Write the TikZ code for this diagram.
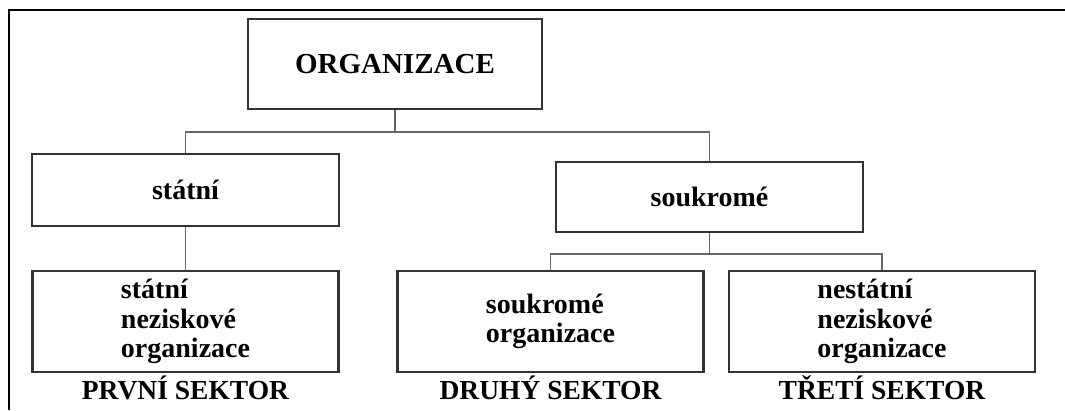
\documentclass[tikz,border=0pt]{standalone}
\usepackage{fontspec}
\setmainfont{Liberation Serif}
\usepackage{tikz}
\usepackage{xcolor}

\begin{document}
\begin{tikzpicture}[x=1pt,y=-1pt,
    box/.style={draw=black!80,line width=2.4pt,minimum width=306pt,inner sep=0pt,align=left,
      font=\fontsize{28}{29.5}\selectfont\bfseries},
    conn/.style={draw=black!60,line width=1.8pt},
    sector/.style={anchor=base,inner sep=0pt,font=\fontsize{27.5}{29.5}\selectfont\bfseries}]
      \useasboundingbox (0,0) rectangle (1065,410);
      \draw [black,line width=2.4pt] (9,410) -- (9,10) -- (1065,10);
      % top level
      \node [box,minimum width=294pt,minimum height=90pt,font=\fontsize{29}{32}\selectfont\bfseries] (org) at (395,64) {ORGANIZACE};
      % second level
      \node [box,minimum width=307pt,minimum height=72pt] (statni) at (185.5,190) {státní};
      \node [box,minimum width=307pt,minimum height=70pt] (soukrome) at (709.5,197) {soukromé};
      % third level
      \node [box,minimum height=101pt] (statnino) at (185.5,321.5) {státní\\neziskové\\organizace};
      \node [box,minimum height=101pt] (soukrorg) at (550.5,321.5) {soukromé\\organizace};
      \node [box,minimum height=101pt] (nestatni) at (882,321.5) {nestátní\\neziskové\\organizace};
      % sectors
      \node [sector] (sec1) at ([yshift=-26pt]statnino.south) {PRVNÍ SEKTOR};
      \node [sector] (sec2) at ([yshift=-26pt]soukrorg.south) {DRUHÝ SEKTOR};
      \node [sector] (sec3) at ([yshift=-26pt]nestatni.south) {TŘETÍ SEKTOR};
      % connectors
      \coordinate (hubA) at ([yshift=-21.5pt]org.south);
      \coordinate (hubB) at ([yshift=-21pt]soukrome.south);
      \draw [conn] (org.south) -- (hubA);
      \draw [conn] (statni.north) |- (hubA) -| (soukrome.north);
      \draw [conn] (statni.south) -- (statnino.north);
      \draw [conn] (soukrome.south) -- (hubB);
      \draw [conn] (soukrorg.north) |- (hubB) -| (nestatni.north);
    \end{tikzpicture}
\end{document}
